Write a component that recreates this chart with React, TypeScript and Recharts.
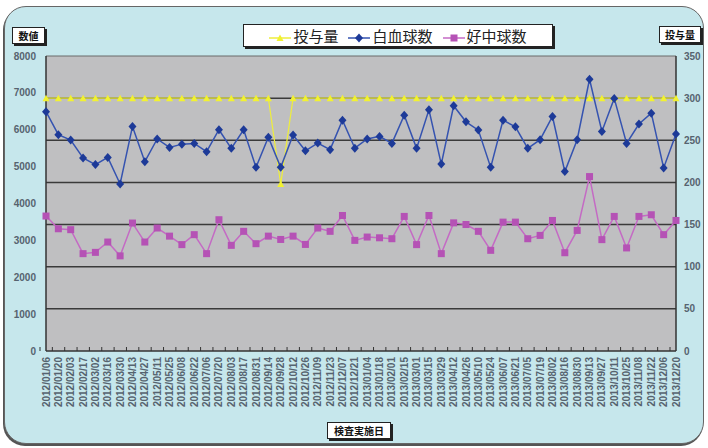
import React from 'react';
import { ComposedChart, Line, XAxis, YAxis, CartesianGrid, ReferenceLine } from 'recharts';

const dates = [
  '2012/01/06', '2012/01/20', '2012/02/03', '2012/02/17', '2012/03/02', '2012/03/16', '2012/03/30',
  '2012/04/13', '2012/04/27', '2012/05/11', '2012/05/25', '2012/06/08', '2012/06/22', '2012/07/06',
  '2012/07/20', '2012/08/03', '2012/08/17', '2012/08/31', '2012/09/14', '2012/09/28', '2012/10/12',
  '2012/10/26', '2012/11/09', '2012/11/23', '2012/12/07', '2012/12/21',
  '2013/01/04', '2013/01/18', '2013/02/01', '2013/02/15', '2013/03/01', '2013/03/15', '2013/03/29',
  '2013/04/12', '2013/04/26', '2013/05/10', '2013/05/24', '2013/06/07', '2013/06/21', '2013/07/05',
  '2013/07/19', '2013/08/02', '2013/08/16', '2013/08/30', '2013/09/13', '2013/09/27', '2013/10/11',
  '2013/10/25', '2013/11/08', '2013/11/22', '2013/12/06', '2013/12/20',
];

// 投与量 (right axis)
const dose = [
  300, 300, 300, 300, 300, 300, 300, 300, 300, 300, 300, 300, 300, 300, 300, 300, 300, 300, 300, 198,
  300, 300, 300, 300, 300, 300, 300, 300, 300, 300, 300, 300, 300, 300, 300, 300, 300, 300, 300, 300,
  300, 300, 300, 300, 300, 300, 300, 300, 300, 300, 300, 300,
];

// 白血球数 (left axis)
const wbc = [
  6490, 5865, 5720, 5235, 5055, 5250, 4530, 6090, 5135, 5750, 5520, 5610, 5630, 5405, 6000, 5495,
  6000, 4980, 5795, 4980, 5855, 5430, 5640, 5460, 6260, 5500, 5750, 5820, 5630, 6395, 5495, 6540,
  5070, 6650, 6215, 5990, 4980, 6260, 6080, 5495, 5730, 6360, 4865, 5730, 7370, 5955, 6850, 5630,
  6155, 6450, 4965, 5885,
];

// 好中球数 (left axis)
const neut = [
  3660, 3315, 3290, 2640, 2675, 2955, 2580, 3470, 2955, 3335, 3115, 2885, 3155, 2640, 3560, 2865,
  3245, 2910, 3115, 3025, 3115, 2890, 3335, 3245, 3675, 3000, 3090, 3070, 3045, 3650, 2885, 3675,
  2640, 3475, 3430, 3245, 2730, 3495, 3495, 3045, 3135, 3540, 2665, 3270, 4730, 3020, 3650, 2795,
  3650, 3695, 3155, 3540,
];

const leftTicks = [0, 1000, 2000, 3000, 4000, 5000, 6000, 7000, 8000];
const rightTicks = [0, 50, 100, 150, 200, 250, 300, 350];
const gridValues = [50, 100, 150, 200, 250, 300];

const data = dates.map((d, i) => ({ date: d, dose: dose[i], wbc: wbc[i], neut: neut[i] }));

const YELLOW = '#eeee3c';
const YELLOW_DOT = '#f2f230';
const BLUE = '#3553b0';
const BLUE_DOT = '#1d3a98';
const PINK = '#c46ac4';
const PINK_DOT = '#b552b5';
const TICK_COLOR = '#56636f';
const FONT = '"Liberation Sans", Arial, sans-serif';
const JP = '"Noto Sans CJK JP", sans-serif';

const Triangle = (props: any) => {
  const { cx, cy, index } = props;
  if (cx == null || cy == null) return <g key={index} />;
  return <path key={index} d={`M${cx},${cy - 3.5} L${cx + 3.5},${cy + 3} L${cx - 3.5},${cy + 3} Z`} fill={YELLOW_DOT} />;
};

const Diamond = (props: any) => {
  const { cx, cy, index } = props;
  if (cx == null || cy == null) return <g key={index} />;
  return <path key={index} d={`M${cx},${cy - 4.5} L${cx + 4},${cy} L${cx},${cy + 4.5} L${cx - 4},${cy} Z`} fill={BLUE_DOT} />;
};

const Square = (props: any) => {
  const { cx, cy, index } = props;
  if (cx == null || cy == null) return <g key={index} />;
  return <rect key={index} x={cx - 3.5} y={cy - 3.5} width={7} height={7} fill={PINK_DOT} />;
};

const DateTick = (props: any) => {
  const { x, y, payload } = props;
  return (
    <g transform={`translate(${x},${y})`}>
      <line x1={-6} y1={-6} x2={-6} y2={-10} stroke="#333" strokeWidth={1} />
      <text
        transform="rotate(-90)"
        x={0}
        y={0}
        dy={3.5}
        textAnchor="end"
        fontSize={10}
        fontWeight="bold"
        fontFamily={FONT}
        fill={TICK_COLOR}
      >
        {payload.value}
      </text>
    </g>
  );
};

const TitleBox = ({ text, left, top, width }: { text: string; left: number; top: number; width: number }) => (
  <div
    style={{
      position: 'absolute', left, top, width, height: 15, background: '#fff', border: '1px solid #222',
      boxShadow: '2px 2px 0 #222', fontFamily: JP, fontSize: 10, fontWeight: 'bold', lineHeight: '15px',
      textAlign: 'center', color: '#111',
    }}
  >
    {text}
  </div>
);

const LegendMark = ({ color, shape }: { color: string; shape: string }) => (
  <svg width={22} height={12} style={{ verticalAlign: 'middle', marginRight: 2 }}>
    <line x1={0} y1={6} x2={22} y2={6} stroke={color} strokeWidth={1.5} />
    {shape === 'tri' && <path d="M11,2.5 L14.5,9 L7.5,9 Z" fill={YELLOW_DOT} />}
    {shape === 'dia' && <path d="M11,1.5 L15,6 L11,10.5 L7,6 Z" fill={BLUE_DOT} />}
    {shape === 'sq' && <rect x={7.5} y={2.5} width={7} height={7} fill={PINK_DOT} />}
  </svg>
);

export default function App() {
  return (
    <div style={{ position: 'relative', width: 708, height: 448, background: '#fff', overflow: 'hidden' }}>
      <style>{'body{margin:0}'}</style>
      <div
        style={{
          position: 'absolute', left: 4, top: 6, width: 698, height: 436, background: '#c6e7ec',
          border: '1.5px solid #666', borderRadius: 22, boxShadow: '-1px 2px 0 #555',
        }}
      />
      <div style={{ position: 'absolute', left: 0, top: 0 }}>
        <ComposedChart width={708} height={448} data={data} margin={{ top: 56, right: 0, bottom: 0, left: 0 }}>
          <CartesianGrid fill="#bfbfc1" horizontal={false} vertical={false} />
          {gridValues.map((v) => (
            <ReferenceLine key={v} yAxisId="right" y={v} stroke="#3a3a3a" strokeWidth={1.5} />
          ))}
          <ReferenceLine yAxisId="right" y={350} stroke="#6a6a6a" strokeWidth={1} />
          <XAxis
            dataKey="date"
            interval={0}
            height={97}
            tickLine={false}
            tickSize={0}
            tickMargin={6}
            tick={<DateTick />}
            axisLine={{ stroke: '#333', strokeWidth: 1.5 }}
          />
          <YAxis
            yAxisId="left"
            domain={[0, 8000]}
            ticks={leftTicks}
            width={46}
            tickLine={false}
            tickSize={0}
            tickMargin={10}
            axisLine={{ stroke: '#333', strokeWidth: 1.5 }}
            tick={{ fontSize: 10, fontWeight: 'bold', fontFamily: FONT, fill: TICK_COLOR }}
          />
          <YAxis
            yAxisId="right"
            orientation="right"
            domain={[0, 350]}
            ticks={rightTicks}
            width={32}
            tickLine={false}
            tickSize={0}
            tickMargin={8}
            axisLine={{ stroke: '#333', strokeWidth: 1.5 }}
            tick={{ fontSize: 10, fontWeight: 'bold', fontFamily: FONT, fill: TICK_COLOR, textAnchor: 'start' }}
          />
          <Line yAxisId="right" dataKey="dose" stroke={YELLOW} strokeWidth={1.2} dot={<Triangle />} isAnimationActive={false} />
          <Line yAxisId="left" dataKey="wbc" stroke={BLUE} strokeWidth={1.5} dot={<Diamond />} isAnimationActive={false} />
          <Line yAxisId="left" dataKey="neut" stroke={PINK} strokeWidth={1.5} dot={<Square />} isAnimationActive={false} />
        </ComposedChart>
      </div>
      <div
        style={{
          position: 'absolute', left: 243, top: 24, width: 308, height: 21, background: '#fff',
          border: '1px solid #222', boxShadow: '2px 2px 0 #222', display: 'flex', alignItems: 'center',
          justifyContent: 'center', gap: 10, fontFamily: JP, fontSize: 15, color: '#222',
        }}
      >
        <span><LegendMark color={YELLOW} shape="tri" />投与量</span>
        <span><LegendMark color={BLUE} shape="dia" />白血球数</span>
        <span><LegendMark color={PINK} shape="sq" />好中球数</span>
      </div>
      <TitleBox text="数値" left={12} top={27} width={31} />
      <TitleBox text="投与量" left={659} top={26} width={40} />
      <TitleBox text="検査実施日" left={327} top={422} width={62} />
    </div>
  );
}
